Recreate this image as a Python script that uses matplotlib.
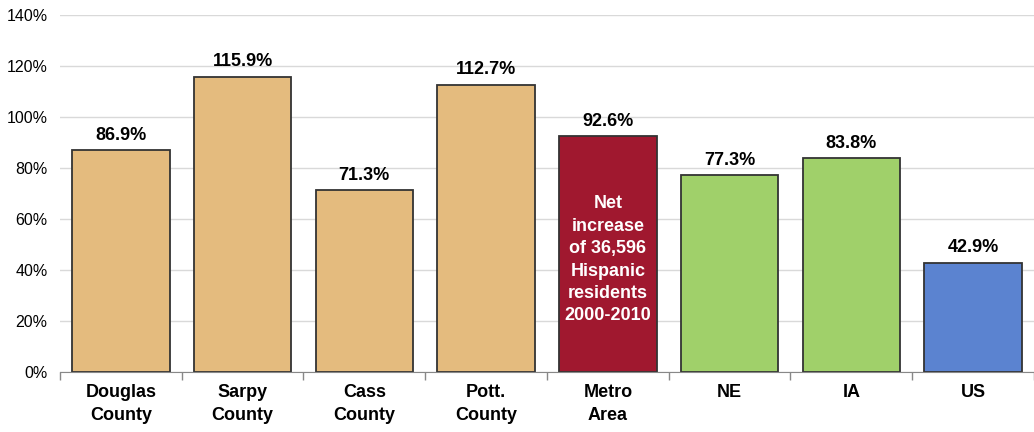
import matplotlib.pyplot as plt
import numpy as np

# -------------------------------------------------
# DATA
# -------------------------------------------------

categories = ["Douglas\nCounty", "Sarpy\nCounty", "Cass\nCounty", "Pott.\nCounty",
              "Metro\nArea", "NE", "IA", "US"]
growth = [86.9, 115.9, 71.3, 112.7, 92.6, 77.3, 83.8, 42.9]
colors = ["#E4BB7E", "#E4BB7E", "#E4BB7E", "#E4BB7E",
          "#A0182F", "#A0D06A", "#A0D06A", "#5B83D0"]
metro_note = "Net\nincrease\nof 36,596\nHispanic\nresidents\n2000-2010"

# -------------------------------------------------
# PLOT
# -------------------------------------------------

plt.rcParams["font.family"] = ["Liberation Sans", "DejaVu Sans"]

fig = plt.figure(figsize=(10.34, 4.32), dpi=100)
ax = fig.add_axes([0.058, 0.139, 0.942, 0.826])

x = np.arange(len(categories))
ax.bar(x, growth, width=0.8, color=colors, edgecolor="#333333",
       linewidth=1.3, zorder=3)

for xi, v in zip(x, growth):
    ax.text(xi, v + 2.5, f"{v:.1f}%", ha="center", va="bottom",
            fontsize=13, fontweight="bold")

ax.text(x[4], 44, metro_note, ha="center", va="center", color="white",
        fontsize=13, fontweight="bold", linespacing=1.42, zorder=4)

ax.set_xlim(-0.5, len(categories) - 0.5)
ax.set_ylim(0, 140)
ax.set_yticks(np.arange(0, 141, 20))
ax.set_yticklabels([f"{t}%" for t in range(0, 141, 20)], fontsize=11.5)
ax.yaxis.grid(True, color="#D9D9D9", linewidth=1, zorder=0)
ax.tick_params(axis="y", length=0, pad=9)

ax.set_xticks(x)
ax.set_xticklabels(categories, fontsize=13, fontweight="bold", linespacing=1.45)
ax.set_xticks(np.arange(-0.5, len(categories), 1), minor=True)
ax.tick_params(axis="x", which="major", length=0, pad=9)
ax.tick_params(axis="x", which="minor", length=6, color="#888888", width=1)

for s in ["top", "right", "left"]:
    ax.spines[s].set_visible(False)
ax.spines["bottom"].set_color("#888888")
ax.spines["bottom"].set_zorder(5)

plt.savefig("out.png", dpi=100)
